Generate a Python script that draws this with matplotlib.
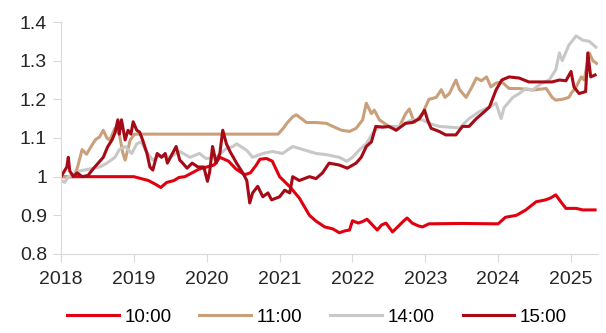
import matplotlib
matplotlib.use("Agg")
import matplotlib.pyplot as plt

plt.rcParams["font.family"] = ["Liberation Sans", "DejaVu Sans"]

# 10:00 series (year fraction, value)
t_1000 = [2018.0, 2019.0, 2019.1, 2019.2, 2019.3, 2019.37, 2019.45, 2019.55, 2019.62,
          2019.7, 2019.8, 2019.9, 2020.0, 2020.1, 2020.18, 2020.3, 2020.4, 2020.52,
          2020.6, 2020.68, 2020.73, 2020.82, 2020.9, 2021.0, 2021.14, 2021.27, 2021.41,
          2021.5, 2021.62, 2021.73, 2021.82, 2021.9, 2021.96, 2022.0, 2022.08, 2022.14,
          2022.2, 2022.26, 2022.34, 2022.4, 2022.46, 2022.55, 2022.62, 2022.7, 2022.75,
          2022.82, 2022.9, 2022.96, 2023.05, 2023.5, 2024.0, 2024.1, 2024.25, 2024.38,
          2024.52, 2024.65, 2024.72, 2024.79, 2024.86, 2024.93, 2025.07, 2025.16, 2025.33]
v_1000 = [1.0, 1.0, 0.995, 0.99, 0.98, 0.972, 0.985, 0.99, 0.998,
          1.0, 1.01, 1.02, 1.025, 1.03, 1.05, 1.04, 1.02, 1.005,
          1.01, 1.03, 1.045, 1.047, 1.04, 1.0, 0.974, 0.945, 0.9,
          0.885, 0.87, 0.865, 0.855, 0.86, 0.862, 0.886, 0.88, 0.884,
          0.89, 0.878, 0.862, 0.875, 0.88, 0.857, 0.87, 0.885, 0.893,
          0.88, 0.873, 0.87, 0.878, 0.879, 0.878, 0.895, 0.9, 0.914,
          0.935, 0.94, 0.945, 0.953, 0.935, 0.918, 0.918, 0.914, 0.914]

# 11:00 series
t_1100 = [2018.0, 2018.1, 2018.17, 2018.22, 2018.29, 2018.35, 2018.42, 2018.47, 2018.53,
          2018.58, 2018.63, 2018.67, 2018.74, 2018.8, 2018.85, 2018.88, 2018.95, 2019.01,
          2020.98, 2021.05, 2021.1, 2021.18, 2021.23, 2021.3, 2021.37, 2021.5, 2021.64,
          2021.73, 2021.85, 2021.96, 2022.05, 2022.14, 2022.19, 2022.26, 2022.3, 2022.37,
          2022.5, 2022.64, 2022.73, 2022.78, 2022.85, 2022.96, 2023.05, 2023.15, 2023.22,
          2023.27, 2023.33, 2023.42, 2023.47, 2023.56, 2023.64, 2023.7, 2023.77, 2023.84,
          2023.9, 2023.97, 2024.05, 2024.15, 2024.29, 2024.47, 2024.66, 2024.74, 2024.79,
          2024.88, 2024.97, 2025.0, 2025.07, 2025.14, 2025.18, 2025.25, 2025.3, 2025.35]
v_1100 = [1.0, 1.0, 1.0, 1.02, 1.07, 1.058, 1.08, 1.095, 1.103,
          1.12, 1.1, 1.095, 1.125, 1.11, 1.06, 1.043, 1.095, 1.11,
          1.11, 1.125, 1.138, 1.155, 1.16, 1.15, 1.14, 1.14, 1.138,
          1.13, 1.12, 1.117, 1.125, 1.147, 1.19, 1.163, 1.172, 1.147,
          1.13, 1.128, 1.163, 1.175, 1.14, 1.163, 1.2, 1.205, 1.225,
          1.205, 1.215, 1.25, 1.225, 1.205, 1.232, 1.255, 1.248, 1.258,
          1.232, 1.242, 1.245, 1.228, 1.228, 1.224, 1.228, 1.205, 1.198,
          1.2, 1.205, 1.215, 1.232, 1.258, 1.25, 1.32, 1.3, 1.293]

# 14:00 series
t_1400 = [2018.0, 2018.05, 2018.1, 2018.26, 2018.4, 2018.53, 2018.63, 2018.74, 2018.8,
          2018.88, 2018.97, 2019.04, 2019.1, 2019.18, 2019.26, 2019.36, 2019.49, 2019.63,
          2019.77, 2019.9, 2019.99, 2020.13, 2020.27, 2020.36, 2020.41, 2020.55, 2020.63,
          2020.77, 2020.9, 2021.04, 2021.18, 2021.27, 2021.5, 2021.64, 2021.82, 2021.92,
          2022.0, 2022.1, 2022.19, 2022.28, 2022.37, 2022.5, 2022.64, 2022.82, 2022.96,
          2023.05, 2023.19, 2023.33, 2023.47, 2023.6, 2023.74, 2023.88, 2023.97, 2024.04,
          2024.08, 2024.2, 2024.29, 2024.38, 2024.47, 2024.6, 2024.7, 2024.79, 2024.84,
          2024.88, 2024.97, 2025.07, 2025.16, 2025.25, 2025.34]
v_1400 = [0.99, 0.985, 1.0, 1.015, 1.02, 1.025, 1.035, 1.05, 1.07,
          1.078, 1.06, 1.085, 1.09, 1.062, 1.043, 1.055, 1.05, 1.065,
          1.05, 1.06, 1.047, 1.05, 1.073, 1.078, 1.085, 1.068, 1.05,
          1.06, 1.065, 1.06, 1.078, 1.073, 1.06, 1.057, 1.05, 1.04,
          1.05, 1.07, 1.085, 1.113, 1.13, 1.128, 1.13, 1.147, 1.147,
          1.138, 1.13, 1.128, 1.126, 1.15, 1.168, 1.18, 1.19, 1.15,
          1.178, 1.205, 1.215, 1.228, 1.224, 1.242, 1.25, 1.276, 1.32,
          1.3, 1.34, 1.364, 1.353, 1.35, 1.335]

# 15:00 series
t_1500 = [2018.0, 2018.08, 2018.1, 2018.12, 2018.17, 2018.22, 2018.29, 2018.37, 2018.44,
          2018.51, 2018.58, 2018.64, 2018.7, 2018.74, 2018.78, 2018.8, 2018.83, 2018.88,
          2018.92, 2018.96, 2018.99, 2019.04, 2019.08, 2019.12, 2019.18, 2019.22, 2019.26,
          2019.32, 2019.38, 2019.43, 2019.46, 2019.53, 2019.58, 2019.63, 2019.67, 2019.73,
          2019.8, 2019.88, 2019.96, 2020.01, 2020.04, 2020.08, 2020.13, 2020.18, 2020.22,
          2020.27, 2020.32, 2020.41, 2020.5, 2020.55, 2020.59, 2020.63, 2020.7, 2020.77,
          2020.84, 2020.89, 2021.0, 2021.07, 2021.14, 2021.18, 2021.27, 2021.41, 2021.5,
          2021.59, 2021.68, 2021.82, 2021.93, 2022.05, 2022.12, 2022.19, 2022.26, 2022.32,
          2022.41, 2022.5, 2022.6, 2022.73, 2022.82, 2022.92, 2022.99, 2023.03, 2023.08,
          2023.19, 2023.28, 2023.42, 2023.51, 2023.6, 2023.7, 2023.78, 2023.88, 2023.97,
          2024.05, 2024.15, 2024.29, 2024.42, 2024.56, 2024.74, 2024.84, 2024.93, 2025.0,
          2025.04, 2025.11, 2025.2, 2025.23, 2025.27, 2025.33]
v_1500 = [1.0, 1.025, 1.05, 1.015, 1.0, 1.01, 1.0, 1.003, 1.02,
          1.035, 1.05, 1.077, 1.095, 1.113, 1.147, 1.11, 1.147, 1.095,
          1.12, 1.11, 1.142, 1.12, 1.115, 1.095, 1.06, 1.025, 1.017,
          1.06, 1.05, 1.06, 1.035, 1.06, 1.078, 1.043, 1.035, 1.022,
          1.035, 1.025, 1.025, 0.988, 1.012, 1.078, 1.035, 1.06, 1.12,
          1.085, 1.065, 1.035, 1.008, 0.99, 0.932, 0.958, 0.975, 0.948,
          0.958, 0.94, 0.948, 0.965, 0.958, 1.0, 0.99, 1.0, 0.995,
          1.01, 1.035, 1.03, 1.022, 1.035, 1.05, 1.078, 1.09, 1.13,
          1.128, 1.13, 1.12, 1.138, 1.14, 1.15, 1.172, 1.147, 1.125,
          1.117, 1.108, 1.108, 1.13, 1.13, 1.15, 1.163, 1.18, 1.224,
          1.25, 1.258, 1.255, 1.245, 1.245, 1.245, 1.25, 1.248, 1.272,
          1.232, 1.215, 1.22, 1.32, 1.258, 1.263]

labels = ["10:00", "11:00", "14:00", "15:00"]
colors = ["#E1000F", "#C9A07A", "#C8C8C8", "#A50A16"]
years = [2018, 2019, 2020, 2021, 2022, 2023, 2024, 2025]
yticks = [0.8, 0.9, 1.0, 1.1, 1.2, 1.3, 1.4]
ytick_labels = ["0.8", "0.9", "1", "1.1", "1.2", "1.3", "1.4"]

fig = plt.figure(figsize=(6.06, 3.33), dpi=100)
ax = fig.add_axes([61 / 606, 1 - 254 / 333, (598 - 61) / 606, (254 - 22) / 333])

series = [(t_1000, v_1000), (t_1100, v_1100), (t_1400, v_1400), (t_1500, v_1500)]
for (t, v), lab, c in zip(series, labels, colors):
    ax.plot(t, v, color=c, lw=2.2, label=lab, solid_joinstyle="round")

ax.set_xlim(2018, 2025.37)
ax.set_ylim(0.8, 1.4)
ax.set_xticks(years)
ax.set_xticklabels([str(y) for y in years])
ax.set_yticks(yticks)
ax.set_yticklabels(ytick_labels)

for side in ["top", "right"]:
    ax.spines[side].set_visible(False)
for side in ["left", "bottom"]:
    ax.spines[side].set_color("#D9D9D9")
    ax.spines[side].set_linewidth(0.8)
ax.tick_params(axis="both", colors="#D9D9D9", labelcolor="#262626",
               labelsize=14, length=6, width=0.8)
ax.tick_params(axis="x", pad=6)
ax.tick_params(axis="y", pad=4)

fig.legend(loc="center", bbox_to_anchor=(317 / 606, 1 - 317 / 333), ncol=4,
           frameon=False, fontsize=13.5, handlelength=2.75, handletextpad=0.3,
           columnspacing=1.5)

fig.savefig("out.png", dpi=100)
